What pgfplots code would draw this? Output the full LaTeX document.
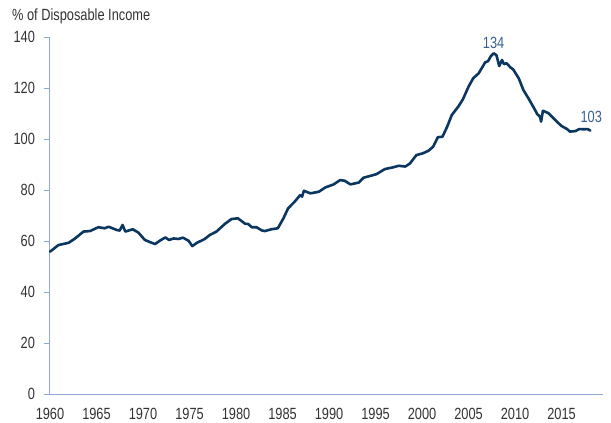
\documentclass[border=0pt]{standalone}
\usepackage{fontspec}
\setmainfont{Liberation Sans}[FakeStretch=0.79]
\usepackage{pgfplots}
\pgfplotsset{compat=1.18}
\definecolor{linenavy}{HTML}{0A365F}
\definecolor{axisblue}{HTML}{8DA9D4}
\definecolor{txtgray}{HTML}{333333}
\definecolor{lblblue}{HTML}{3A6090}
\begin{document}
\begin{tikzpicture}
\begin{axis}[
  at={(0pt,0pt)}, anchor=south west,
  scale only axis, width=553pt, height=357pt,
  xmin=1960, xmax=2019.46, ymin=0, ymax=140,
  axis x line=bottom, axis y line=left,
  axis line style={-, draw=axisblue, line width=1pt},
  xtick={1960,1965,...,2015},
  ytick={0,20,...,140},
  x tick style={draw=none},
  y tick style={draw=axisblue, line width=1pt},
  tick align=outside, major tick length=6pt,
  /pgf/number format/.cd, 1000 sep={}, assume math mode=true, /pgfplots/.cd,
  tick label style={font=\fontsize{16.2}{16.2}\selectfont, text=txtgray},
  xticklabel style={yshift=-4.5pt},
  yticklabel style={xshift=-5.5pt},
  clip=false,
]
\addplot[linenavy, line width=2.6pt, line join=round, line cap=round] coordinates {
(1960.0,55.8) (1960.9,58.4) (1962.0,59.3) (1962.7,61.0) (1963.6,63.7)
(1964.3,63.9) (1965.2,65.4) (1965.9,65.0) (1966.3,65.6) (1967.2,64.3)
(1967.5,64.1) (1967.8,66.3) (1968.1,63.7) (1968.9,64.6) (1969.5,63.3)
(1970.2,60.4) (1970.8,59.5) (1971.3,58.8) (1971.8,60.1) (1972.4,61.4)
(1972.8,60.4) (1973.3,61.0) (1973.8,60.8) (1974.3,61.3) (1974.9,60.1)
(1975.3,58.0) (1975.8,59.3) (1976.6,60.7) (1977.2,62.4) (1977.9,63.7)
(1978.8,66.7) (1979.5,68.6) (1980.2,68.9) (1981.0,66.7) (1981.3,66.7)
(1981.7,65.4) (1982.2,65.4) (1982.8,64.1) (1983.1,63.9) (1983.8,64.6)
(1984.5,65.0) (1985.1,68.9) (1985.6,72.8) (1986.3,75.4) (1986.9,78.0)
(1987.1,77.4) (1987.3,79.7) (1988.0,78.7) (1988.9,79.3) (1989.6,81.0)
(1990.5,82.2) (1991.2,83.9) (1991.7,83.6) (1992.3,82.2) (1992.8,82.6)
(1993.2,82.9) (1993.7,84.8) (1994.4,85.5) (1995.1,86.2) (1996.0,88.2)
(1996.9,88.9) (1997.5,89.5) (1998.2,89.2) (1998.7,90.4) (1999.4,93.7)
(2000.1,94.4) (2000.7,95.4) (2001.2,97.0) (2001.7,100.7) (2002.2,100.9)
(2002.7,104.8) (2003.2,109.4) (2003.9,112.7) (2004.4,115.6) (2005.0,120.5)
(2005.5,123.8) (2006.1,125.8) (2006.8,130.1) (2007.1,130.5) (2007.4,132.5)
(2007.7,133.6) (2008.0,132.9) (2008.3,128.6) (2008.6,131.0) (2008.8,129.4)
(2009.1,129.7) (2009.5,128.1) (2009.8,127.3) (2010.4,123.8) (2010.9,119.2)
(2011.5,115.6) (2012.0,112.4) (2012.4,109.7) (2012.7,108.7) (2012.8,106.8)
(2013.0,111.1) (2013.6,110.1) (2013.9,109.0) (2014.5,106.8) (2015.0,105.1)
(2015.6,103.9) (2015.9,102.9) (2016.5,103.1) (2016.9,103.9) (2017.4,103.8)
(2017.8,103.9) (2018.1,103.3)
};
\node[text=lblblue, font=\fontsize{16.2}{16.2}\selectfont] at (axis cs:2007.7,137.8) {134};
\node[text=lblblue, font=\fontsize{16.2}{16.2}\selectfont] at (axis cs:2018.2,108.5) {103};
\end{axis}
\node[anchor=base west, text=txtgray, font=\fontsize{16.2}{16.2}\selectfont, inner sep=0pt] at (-38pt,373pt) {\% of Disposable Income};
\path (-50pt,-27pt) rectangle (561pt,394pt);
\end{tikzpicture}
\end{document}
